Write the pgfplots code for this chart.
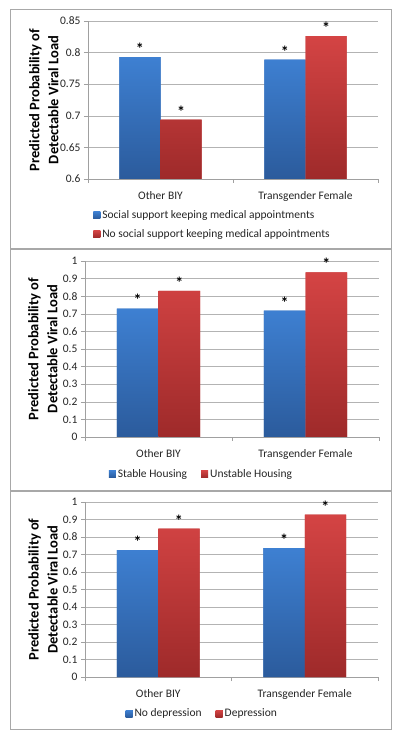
\documentclass[border=0pt]{standalone}
\usepackage{pgfplots}
\pgfplotsset{compat=1.18}
\usepackage{fontspec}
\setmainfont{Carlito}
\definecolor{bluetop}{HTML}{3E80D2}
\definecolor{bluebot}{HTML}{2B5B9C}
\definecolor{redtop}{HTML}{D44444}
\definecolor{redbot}{HTML}{9E2A2A}
\definecolor{bluemid}{HTML}{3570BC}
\definecolor{redmid}{HTML}{C03838}
\definecolor{framegray}{HTML}{A8A8A8}
\definecolor{axgray}{HTML}{A0A0A0}
\pgfplotsset{
 panel/.style={
  scale only axis,
  ybar=0pt, bar width=0.283,
  xmin=-0.5, xmax=1.5,
  xtick={0,1}, xticklabels={Other BIY, Transgender Female},
  xtick style={draw=none},
  xticklabel style={yshift=-5pt},
  extra x ticks={-0.5,0.5,1.5}, extra x tick labels={},
  extra x tick style={grid=none, xtick style={draw=axgray}},
  axis x line*=bottom, axis y line*=left,
  axis line style={draw=axgray, -},
  ytick style={draw=axgray},
  tick align=outside, major tick length=4pt,
  ymajorgrids, grid style={draw=axgray!80},
  tick label style={font=\fontsize{11.5}{12}\selectfont, text=black!85},
  /pgf/number format/assume math mode=true,
  ylabel={Predicted Probability of\\Detectable Viral Load},
  ylabel style={font=\bfseries\fontsize{14.5}{19}\selectfont, align=center, anchor=center},
  legend style={draw=none, fill=none, font=\fontsize{11.5}{13}\selectfont, inner sep=1pt, text=black!85},
  legend cell align=left,
  legend image code/.code={\fill[##1] (0pt,-3.5pt) rectangle (7pt,3.5pt);},
  nodes near coords={*},
  every node near coord/.append style={font=\bfseries\fontsize{16}{16}\selectfont, text=black, fill=none, draw=none, yshift=-1pt},
  clip=false,
 },
 bluebar/.style={draw=none, top color=bluetop, bottom color=bluebot, fill=bluemid},
 redbar/.style={draw=none, top color=redtop, bottom color=redbot, fill=redmid},
}
\begin{document}
\begin{tikzpicture}
\path[fill=white] (0pt,0pt) rectangle (400pt,739pt);
\draw[framegray, line width=0.8pt] (10pt,491pt) rectangle (391pt,730pt);
\draw[framegray, line width=0.8pt] (10pt,249pt) rectangle (391pt,490pt);
\draw[framegray, line width=0.8pt] (10pt,10pt) rectangle (391pt,248pt);
% Panel 1
\begin{axis}[panel, at={(88pt,560pt)}, anchor=south west, width=290pt, height=158pt,
  ymin=0.6, ymax=0.85, ytick={0.6,0.65,0.7,0.75,0.8,0.85},
  yticklabel style={/pgf/number format/.cd, fixed, precision=2},
  ylabel style={at={(axis description cs:-0.152,0.5)}},
  legend columns=1,
  legend style={at={(axis description cs:0.014,-0.178)}, anchor=north west, row sep=5.5pt},
]
\addplot[bluebar] coordinates {(0,0.793) (1,0.789)};
\addplot[redbar] coordinates {(0,0.694) (1,0.826)};
\legend{Social support keeping medical appointments, No social support keeping medical appointments}
\end{axis}
% Panel 2
\begin{axis}[panel, at={(85pt,302pt)}, anchor=south west, width=294pt, height=176pt,
  ymin=0, ymax=1, ytick={0,0.1,...,1},
  ylabel style={at={(axis description cs:-0.143,0.5)}},
  legend columns=2,
  legend style={at={(axis description cs:0.396,-0.21)}, anchor=center, /tikz/every even column/.append style={column sep=12pt}},
]
\addplot[bluebar] coordinates {(0,0.730) (1,0.718)};
\addplot[redbar] coordinates {(0,0.830) (1,0.935)};
\legend{Stable Housing, Unstable Housing}
\end{axis}
% Panel 3
\begin{axis}[panel, at={(85pt,62pt)}, anchor=south west, width=293pt, height=175pt,
  ymin=0, ymax=1, ytick={0,0.1,...,1},
  ylabel style={at={(axis description cs:-0.143,0.5)}},
  legend columns=2,
  legend style={at={(axis description cs:0.40,-0.21)}, anchor=center, /tikz/every even column/.append style={column sep=12pt}},
]
\addplot[bluebar] coordinates {(0,0.725) (1,0.737)};
\addplot[redbar] coordinates {(0,0.848) (1,0.928)};
\legend{No depression, Depression}
\end{axis}
\end{tikzpicture}
\end{document}
